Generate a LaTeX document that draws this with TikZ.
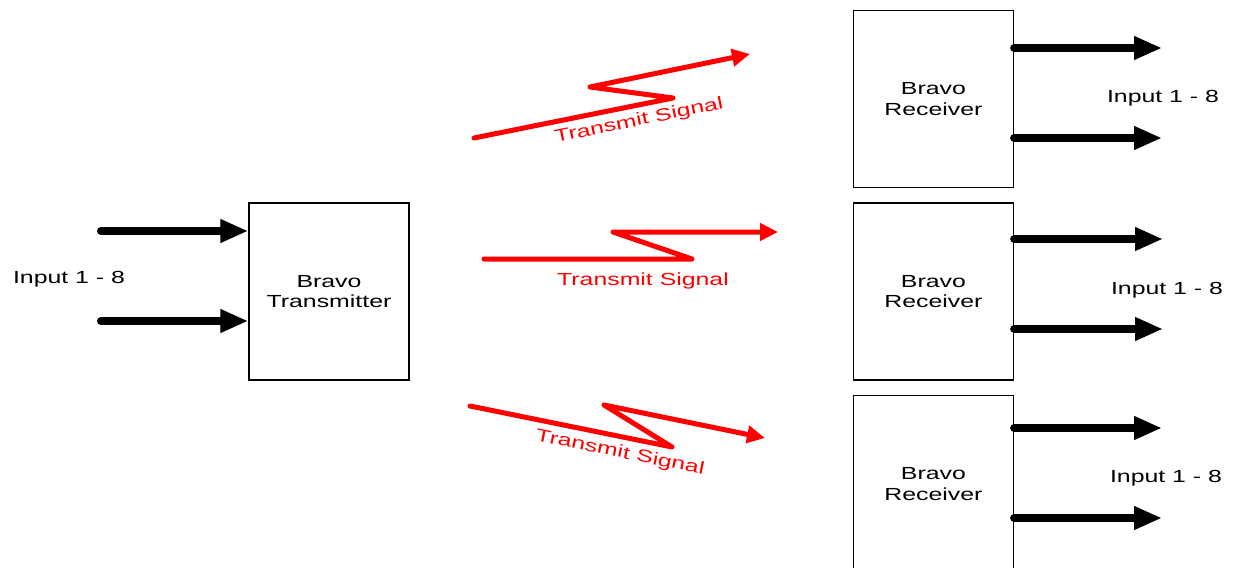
\documentclass[tikz,border=0pt]{standalone}
\usepackage{fontspec}
\setmainfont{Liberation Sans}
\usetikzlibrary{positioning,arrows.meta}

\newcommand{\wide}[1]{\scalebox{1.42}[1]{#1}}

\tikzset{
  unit/.style={draw, rectangle, line width=0.7pt, minimum width=80pt, minimum height=88.5pt, align=center},
  bus/.style={line width=4pt, line cap=round, -{Triangle[length=14pt, width=11pt]}},
  signal/.style={red, line width=2.5pt, line join=round, line cap=round, -{Triangle[length=9pt, width=8.5pt]}}
}

\begin{document}
\begin{tikzpicture}[x=0.5pt, y=-0.5pt, node distance=7pt, every node/.style={font=\fontsize{8.75}{10.4}\selectfont}]
  \clip (0,0) rectangle (1235,567);

  \node[unit] (tx) at (329,291.5) {\wide{Bravo}\\\wide{Transmitter}};
  \node[unit, right=221.5pt of tx] (rx2) {\wide{Bravo}\\\wide{Receiver}};
  \node[unit, above=of rx2] (rx1) {\wide{Bravo}\\\wide{Receiver}};
  \node[unit, below=of rx2] (rx3) {\wide{Bravo}\\\wide{Receiver}};

  % inputs into the transmitter
  \coordinate (in1) at (101,231);
  \coordinate (in2) at (101,321);
  \draw[bus] (in1) -- (in1 -| tx.west);
  \draw[bus] (in2) -- (in2 -| tx.west);
  \node (inlbl) at (69,279) {\wide{Input 1 - 8}};

  % receiver outputs
  \coordinate (out1a) at (1162,48);
  \coordinate (out1b) at (1162,138);
  \coordinate (out2a) at (1163,239);
  \coordinate (out2b) at (1163,329);
  \coordinate (out3a) at (1162,428);
  \coordinate (out3b) at (1162,518);
  \draw[bus] (rx1.east |- out1a) -- (out1a);
  \draw[bus] (rx1.east |- out1b) -- (out1b);
  \draw[bus] (rx2.east |- out2a) -- (out2a);
  \draw[bus] (rx2.east |- out2b) -- (out2b);
  \draw[bus] (rx3.east |- out3a) -- (out3a);
  \draw[bus] (rx3.east |- out3b) -- (out3b);
  \node (outlbl1) at (1163,98) {\wide{Input 1 - 8}};
  \node (outlbl2) at (1167,290) {\wide{Input 1 - 8}};
  \node (outlbl3) at (1166,478) {\wide{Input 1 - 8}};

  % transmit signals
  \coordinate (sig1s) at (474,138);
  \coordinate (sig1e) at (750,54);
  \draw[signal] (sig1s) -- (673,98) -- (590,87) -- (sig1e);
  \node[red, rotate=11.5] (sig1lbl) at (639,121) {\wide{Transmit Signal}};

  \coordinate (sig2s) at (484,259);
  \coordinate (sig2e) at (778,232);
  \draw[signal] (sig2s) -- (692,259) -- (613,232) -- (sig2e);
  \node[red] (sig2lbl) at (643,281) {\wide{Transmit Signal}};

  \coordinate (sig3s) at (470,406);
  \coordinate (sig3e) at (765,438);
  \draw[signal] (sig3s) -- (672,447) -- (604,405) -- (sig3e);
  \node[red, rotate=-11.5] (sig3lbl) at (620,453) {\wide{Transmit Signal}};
\end{tikzpicture}
\end{document}
